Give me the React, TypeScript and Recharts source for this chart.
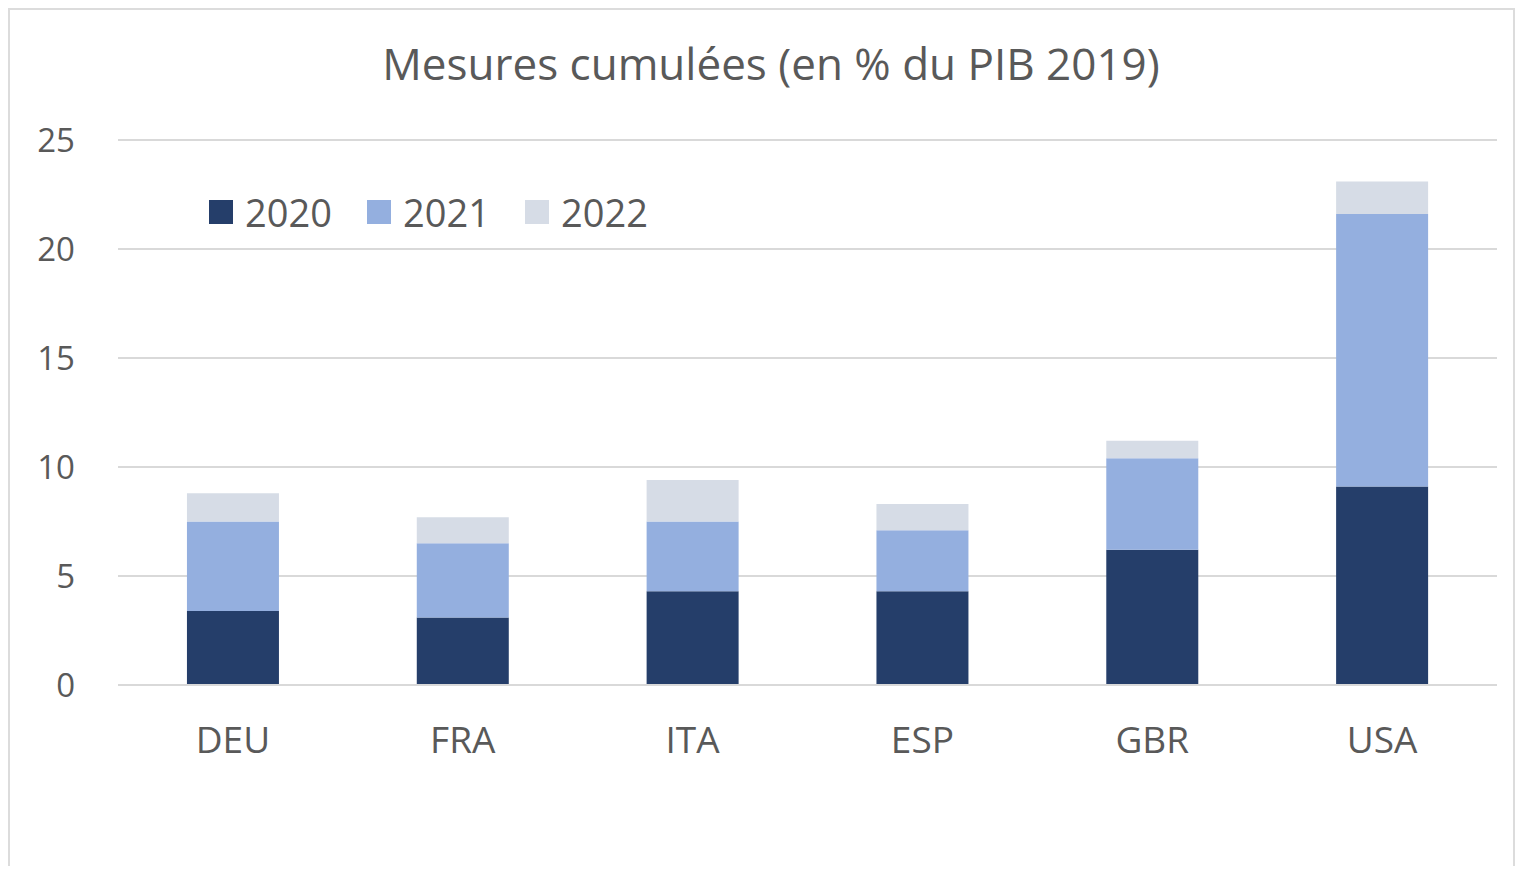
import { Bar, BarChart, CartesianGrid, Legend, XAxis, YAxis } from "recharts";

const PAYS = ["DEU", "FRA", "ITA", "ESP", "GBR", "USA"];
const MESURES_2020 = [3.4, 3.1, 4.3, 4.3, 6.2, 9.1];
const MESURES_2021 = [4.1, 3.4, 3.2, 2.8, 4.2, 12.5];
const MESURES_2022 = [1.3, 1.2, 1.9, 1.2, 0.8, 1.5];
const TICKS_Y = [0, 5, 10, 15, 20, 25];

const SERIES = [
  { key: "2020", cor: "#253e6a" },
  { key: "2021", cor: "#94afdf" },
  { key: "2022", cor: "#d6dce6" },
];

const FONTE = "'Open Sans', 'Noto Sans', sans-serif";
const CINZA = "#595959";

const data = PAYS.map((p, i) => ({
  pays: p,
  "2020": MESURES_2020[i],
  "2021": MESURES_2021[i],
  "2022": MESURES_2022[i],
}));

// legend drawn by hand so the items get Excel-like spacing
function Legenda({ payload }: { payload?: { value: string; color: string }[] }) {
  return (
    <div style={{ display: "flex", alignItems: "center", fontFamily: FONTE }}>
      {(payload || []).map((item) => (
        <div key={item.value} style={{ display: "flex", alignItems: "center", width: 158 }}>
          <span style={{ width: 24, height: 24, background: item.color, marginRight: 12 }} />
          <span style={{ fontSize: 38, lineHeight: 1, color: CINZA }}>{item.value}</span>
        </div>
      ))}
    </div>
  );
}

export default function App() {
  return (
    <div
      style={{
        position: "relative",
        width: 1503,
        height: 856,
        borderTop: "2px solid #dcdcdc",
        borderLeft: "2px solid #dcdcdc",
        borderRight: "2px solid #dcdcdc",
        background: "#fff",
      }}
    >
      <div
        style={{
          position: "absolute",
          left: 261,
          top: 31,
          width: 1000,
          textAlign: "center",
          fontFamily: FONTE,
          fontSize: 44,
          lineHeight: 1,
          color: CINZA,
        }}
      >
        Mesures cumulées (en % du PIB 2019)
      </div>
      <BarChart
        width={1503}
        height={856}
        data={data}
        barCategoryGap="30%"
        margin={{ top: 130, right: 16, left: 0, bottom: 121 }}
      >
        <CartesianGrid vertical={false} stroke="#d9d9d9" strokeWidth={2} />
        <XAxis
          dataKey="pays"
          height={60}
          axisLine={{ stroke: "#d9d9d9", strokeWidth: 2 }}
          tickLine={false}
          tickMargin={36}
          tick={{ fontSize: 37, fill: CINZA, fontFamily: FONTE }}
        />
        <YAxis
          width={108}
          domain={[0, 25]}
          ticks={TICKS_Y}
          axisLine={false}
          tickLine={false}
          tickMargin={37}
          tick={{ fontSize: 33, fill: CINZA, fontFamily: FONTE }}
        />
        <Legend
          layout="horizontal"
          verticalAlign="middle"
          align="center"
          wrapperStyle={{ top: 183, left: 199, width: 600 }}
          // eslint-disable-next-line @typescript-eslint/no-explicit-any
          content={((props: any) => <Legenda payload={props.payload} />) as any}
        />
        {SERIES.map((s) => (
          <Bar key={s.key} dataKey={s.key} stackId="a" fill={s.cor} isAnimationActive={false} />
        ))}
      </BarChart>
    </div>
  );
}
